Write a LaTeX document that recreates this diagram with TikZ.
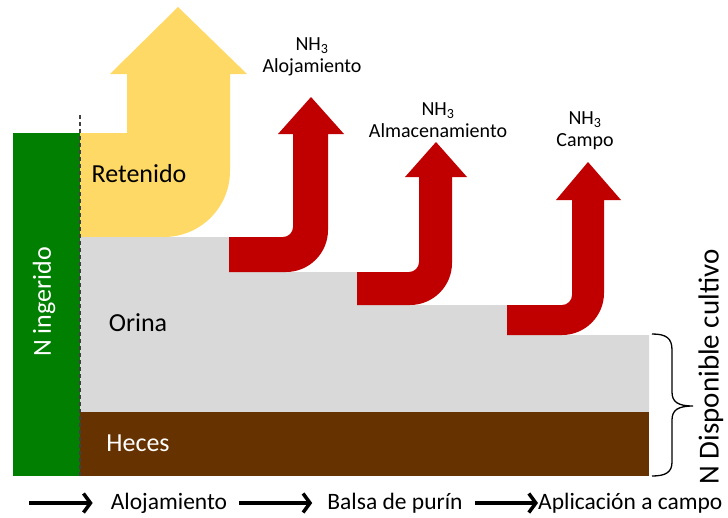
\documentclass[tikz,border=0pt]{standalone}
\usepackage{fontspec}
\setmainfont{Carlito}
\usetikzlibrary{arrows.meta}
\definecolor{cgreen}{HTML}{007F00}
\definecolor{cyellow}{HTML}{FFD966}
\definecolor{cgray}{HTML}{D9D9D9}
\definecolor{cbrown}{HTML}{663300}
\definecolor{cred}{HTML}{C00000}
\definecolor{cdash}{HTML}{404040}
\tikzset{
  big/.style={font=\fontsize{26}{30}\selectfont, inner sep=0pt},
  nhlabel/.style={font=\fontsize{20}{22}\selectfont, align=center, inner sep=0pt},
  steplabel/.style={font=\fontsize{23.5}{28}\selectfont, inner sep=0pt},
  flowarrow/.style={line width=3.5pt, -{Straight Barb[length=7pt,width=19pt]}},
}
\begin{document}
\begin{tikzpicture}[x=1pt,y=-1pt]
\useasboundingbox (0,0) rectangle (728,517);
% yellow retained arrow
\fill[cyellow] (80,133) -- (127,133) -- (127,74) -- (110,74) -- (178,7) -- (247,74) -- (230,74) -- (230,171) arc[start angle=0,end angle=90,radius=66] -- (80,237) -- cycle;
% gray urine staircase
\fill[cgray] (80,237) -- (229,237) -- (229,272) -- (357,272) -- (357,305) -- (507,305) -- (507,335) -- (649,335) -- (649,412) -- (80,412) -- cycle;
% brown feces
\fill[cbrown] (80,412) rectangle (649,476);
% green ingested
\fill[cgreen] (13,133) rectangle (80,476);
\draw[cdash, line width=1.2pt, dash pattern=on 4pt off 3pt] (80,115) -- (80,476);
% red NH3 arrows
\fill[cred] (229,237) -- (283,237) arc[start angle=90,end angle=0,radius=10] -- (293,134) -- (278,134) -- (311,97) -- (344,134) -- (328,134) -- (328,230) arc[start angle=0,end angle=90,radius=42] -- (229,272) -- cycle;
\fill[cred] (357,272) -- (409,272) arc[start angle=90,end angle=0,radius=10] -- (419,177) -- (405,177) -- (436,142) -- (467,177) -- (452,177) -- (452,263) arc[start angle=0,end angle=90,radius=42] -- (357,305) -- cycle;
\fill[cred] (507,305) -- (562,305) arc[start angle=90,end angle=0,radius=10] -- (572,200) -- (556,200) -- (588,162) -- (621,200) -- (604,200) -- (604,293) arc[start angle=0,end angle=90,radius=42] -- (507,335) -- cycle;
% brace
\draw[line width=1.3pt] (652,334) .. controls (666,334) and (672,338) .. (672,350) -- (672,392) .. controls (672,402) and (678,406) .. (693,406) .. controls (678,406) and (672,410) .. (672,420) -- (672,462) .. controls (672,472) and (666,476) .. (652,476);
% labels
\node[big] (ret) at (139,174) {Retenido};
\node[big] (ori) at (138,323) {Orina};
\node[big, text=white] (hec) at (138,443) {Heces};
\node[big, text=white, rotate=90] (ing) at (44,302) {N ingerido};
\node[big, font=\fontsize{29}{33}\selectfont, rotate=90] (disp) at (711,367) {N Disponible cultivo};
\node[nhlabel] (nh1) at (312,57) {NH\textsubscript{3}\\Alojamiento};
\node[nhlabel] (nh2) at (438,120) {NH\textsubscript{3}\\Almacenamiento};
\node[nhlabel] (nh3) at (585,131) {NH\textsubscript{3}\\Campo};
% bottom process row
\coordinate (start) at (29,503);
\node[steplabel] (aloj) at (169,503) {Alojamiento};
\node[steplabel] (balsa) at (395,503) {Balsa de purín};
\node[steplabel, anchor=west] (aplic) at (538,503) {Aplicación a campo};
\draw[flowarrow] (start) -- ([xshift=-18pt]aloj.west);
\draw[flowarrow] ([xshift=12pt]aloj.east) -- ([xshift=-15pt]balsa.west);
\draw[flowarrow] ([xshift=12pt]balsa.east) -- (aplic.west);
\end{tikzpicture}
\end{document}
